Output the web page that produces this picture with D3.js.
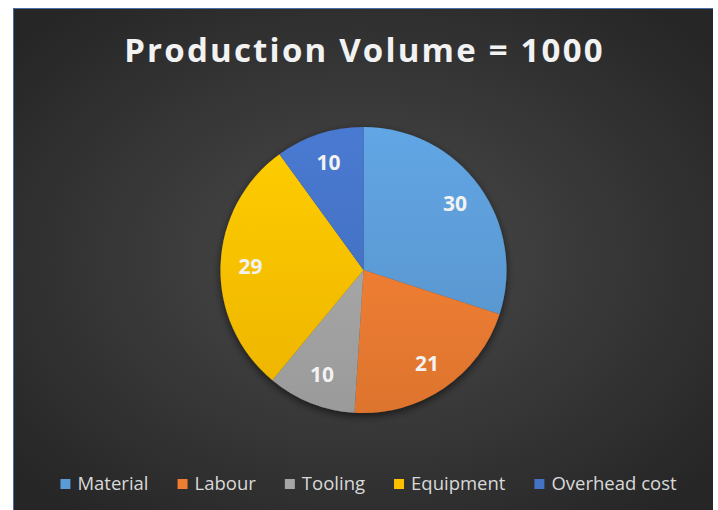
<!DOCTYPE html>
<html>
<head>
<meta charset="utf-8">
<script src="https://cdn.jsdelivr.net/npm/d3@7"></script>
<style>
  body { margin: 0; background: #fff; }
  svg { display: block; }
  text { font-family: "Open Sans", "Noto Sans", sans-serif; }
</style>
</head>
<body>
<svg width="718" height="510"></svg>
<script>
(function() {
  var categories = ["Material", "Labour", "Tooling", "Equipment", "Overhead cost"];
  var values = [30, 21, 10, 29, 10];
  var colors = ["#5b9bd5", "#ed7d31", "#a5a5a5", "#ffc000", "#4472c4"];
  var title = "Production Volume = 1000";

  var svg = d3.select("svg"),
    frame = { x: 13, y: 8, w: 700, h: 502 },
    cx = 363.5, cy = 270, radius = 143;

  var defs = svg.append("defs");

  // dark background, a bit lighter in the middle
  var bg = defs.append("radialGradient").attr("id", "bg")
    .attr("cx", "50%").attr("cy", "50%").attr("r", "65%");
  bg.append("stop").attr("offset", "0%").attr("stop-color", "#4b4b4b");
  bg.append("stop").attr("offset", "100%").attr("stop-color", "#262626");

  // soft shadow under the pie
  var shadow = defs.append("filter").attr("id", "shadow")
    .attr("x", "-20%").attr("y", "-20%").attr("width", "140%").attr("height", "140%");
  shadow.append("feGaussianBlur").attr("in", "SourceAlpha").attr("stdDeviation", 4);
  shadow.append("feOffset").attr("dx", 0).attr("dy", 3).attr("result", "b");
  shadow.append("feComponentTransfer").append("feFuncA").attr("type", "linear").attr("slope", 0.6);
  var merge = shadow.append("feMerge");
  merge.append("feMergeNode");
  merge.append("feMergeNode").attr("in", "SourceGraphic");

  // light-to-dark gradient for each slice colour
  colors.forEach(function(c, i) {
    var g = defs.append("linearGradient").attr("id", "grad-" + i)
      .attr("gradientUnits", "userSpaceOnUse")
      .attr("x1", 0).attr("y1", -radius).attr("x2", 0).attr("y2", radius);
    g.append("stop").attr("offset", "0%").attr("stop-color", d3.color(c).brighter(0.2));
    g.append("stop").attr("offset", "100%").attr("stop-color", d3.color(c).darker(0.2));
  });

  svg.append("rect")
    .attr("x", frame.x).attr("y", frame.y)
    .attr("width", frame.w).attr("height", frame.h)
    .attr("fill", "url(#bg)");
  // thin blue edge on the top and the left
  svg.append("path")
    .attr("d", "M" + (frame.x + 0.5) + "," + (frame.y + frame.h) + "V" + (frame.y + 0.5) + "H" + (frame.x + frame.w))
    .attr("fill", "none").attr("stroke", "#4a6fa8").attr("stroke-width", 1);

  svg.append("text")
    .attr("x", cx + 1).attr("y", 62)
    .attr("text-anchor", "middle")
    .attr("fill", "#f2f2f2")
    .style("font-size", "33px").style("font-weight", "bold")
    .style("letter-spacing", "2.2px")
    .text(title);

  var data = categories.map(function(c, i) { return { name: c, value: values[i], i: i }; });

  var pie = d3.pie().sort(null).value(function(d) { return d.value; });
  var arc = d3.arc().innerRadius(0).outerRadius(radius);
  var labelArc = d3.arc().innerRadius(radius * 0.79).outerRadius(radius * 0.79);

  var g = svg.append("g").attr("transform", "translate(" + cx + "," + cy + ")");
  var slices = pie(data);

  g.append("g").attr("filter", "url(#shadow)")
    .selectAll("path")
    .data(slices)
    .enter().append("path")
      .attr("d", arc)
      .attr("fill", function(d) { return "url(#grad-" + d.data.i + ")"; });

  g.append("g").selectAll("text")
    .data(slices)
    .enter().append("text")
      .attr("transform", function(d) { return "translate(" + labelArc.centroid(d) + ")"; })
      .attr("text-anchor", "middle")
      .attr("dy", "0.35em")
      .attr("fill", "#f2f2f2")
      .style("font-size", "21px").style("font-weight", "bold")
      .text(function(d) { return d.data.value; });

  // legend, centred below the pie
  var legend = svg.append("g");
  var x = 0, gap = 29;
  data.forEach(function(d) {
    var item = legend.append("g").attr("transform", "translate(" + x + ",0)");
    item.append("rect").attr("x", 0).attr("y", -11).attr("width", 10).attr("height", 10)
      .attr("fill", colors[d.i]);
    var t = item.append("text").attr("x", 17).attr("y", 0)
      .attr("fill", "#d9d9d9")
      .style("font-size", "18.5px")
      .text(d.name);
    x += 17 + t.node().getComputedTextLength() + gap;
  });
  var lw = x - gap;
  legend.attr("transform", "translate(" + (368.5 - lw / 2) + ",490)");
})();
</script>
</body>
</html>
